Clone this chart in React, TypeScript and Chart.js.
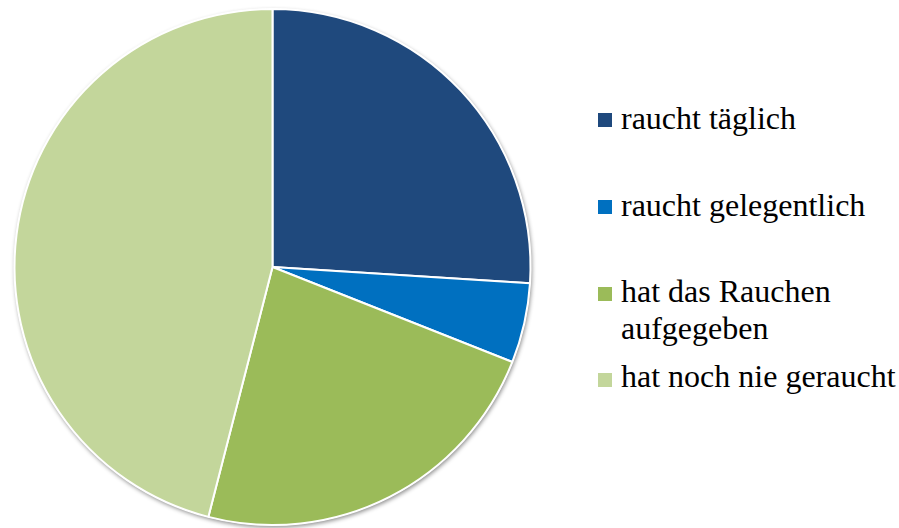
import React, { useEffect, useRef } from "react";
import { Chart, registerables } from "chart.js";

Chart.register(...registerables);

const categories = ["raucht täglich", "raucht gelegentlich", "hat das Rauchen aufgegeben", "hat noch nie geraucht"];
const legendLines = [["raucht täglich"], ["raucht gelegentlich"], ["hat das Rauchen", "aufgegeben"], ["hat noch nie geraucht"]];
const values = [26, 5, 23, 46];
const colors = ["#1F497D", "#0070C0", "#9BBB59", "#C3D69B"];

const legendTops = [100, 187, 273, 358];
const squareTops = [113, 200, 287, 373];

const FONT = '"Liberation Serif", "Times New Roman", serif';

const shadowPlugin = {
  id: "pieShadow",
  beforeDatasetsDraw(chart: any) {
    const meta = chart.getDatasetMeta(0);
    const arc = meta.data[0];
    if (!arc) return;
    const { x, y, outerRadius } = arc.getProps(["x", "y", "outerRadius"], true);
    const ctx = chart.ctx;
    ctx.save();
    ctx.beginPath();
    ctx.arc(x, y, outerRadius + 0.5, 0, Math.PI * 2);
    ctx.shadowColor = "rgba(0,0,0,0.45)";
    ctx.shadowBlur = 4;
    ctx.shadowOffsetX = 1;
    ctx.shadowOffsetY = 2;
    ctx.fillStyle = "#ffffff";
    ctx.fill();
    ctx.restore();
  },
};

export default function App() {
  const ref = useRef<HTMLCanvasElement | null>(null);
  useEffect(() => {
    if (!ref.current) return;
    const chart = new Chart(ref.current, {
      type: "pie",
      data: {
        labels: categories,
        datasets: [
          {
            data: values,
            backgroundColor: colors,
            borderColor: "#ffffff",
            borderWidth: 2,
          },
        ],
      },
      options: {
        animation: false,
        responsive: false,
        radius: 258,
        layout: { padding: { top: 6, left: 0, right: 0, bottom: 0 } },
        plugins: {
          legend: { display: false },
          tooltip: { enabled: false },
        },
      } as any,
      plugins: [shadowPlugin],
    });
    return () => chart.destroy();
  }, []);

  return (
    <div
      style={{
        position: "fixed",
        left: 0,
        top: 0,
        width: 899,
        height: 528,
        background: "#ffffff",
        overflow: "hidden",
      }}
    >
      <canvas ref={ref} width={545} height={528} style={{ position: "absolute", left: 0, top: 0, width: 545, height: 528 }} />
      {legendLines.map((lines, i) => (
        <React.Fragment key={i}>
          <div
            style={{
              position: "absolute",
              left: 598,
              top: squareTops[i],
              width: 14,
              height: 14,
              background: colors[i],
            }}
          />
          <div
            style={{
              position: "absolute",
              left: 621,
              top: legendTops[i],
              fontFamily: FONT,
              fontSize: 32,
              lineHeight: "37px",
              color: "#000000",
              whiteSpace: "nowrap",
            }}
          >
            {lines.map((l, j) => (
              <div key={j}>{l}</div>
            ))}
          </div>
        </React.Fragment>
      ))}
    </div>
  );
}
